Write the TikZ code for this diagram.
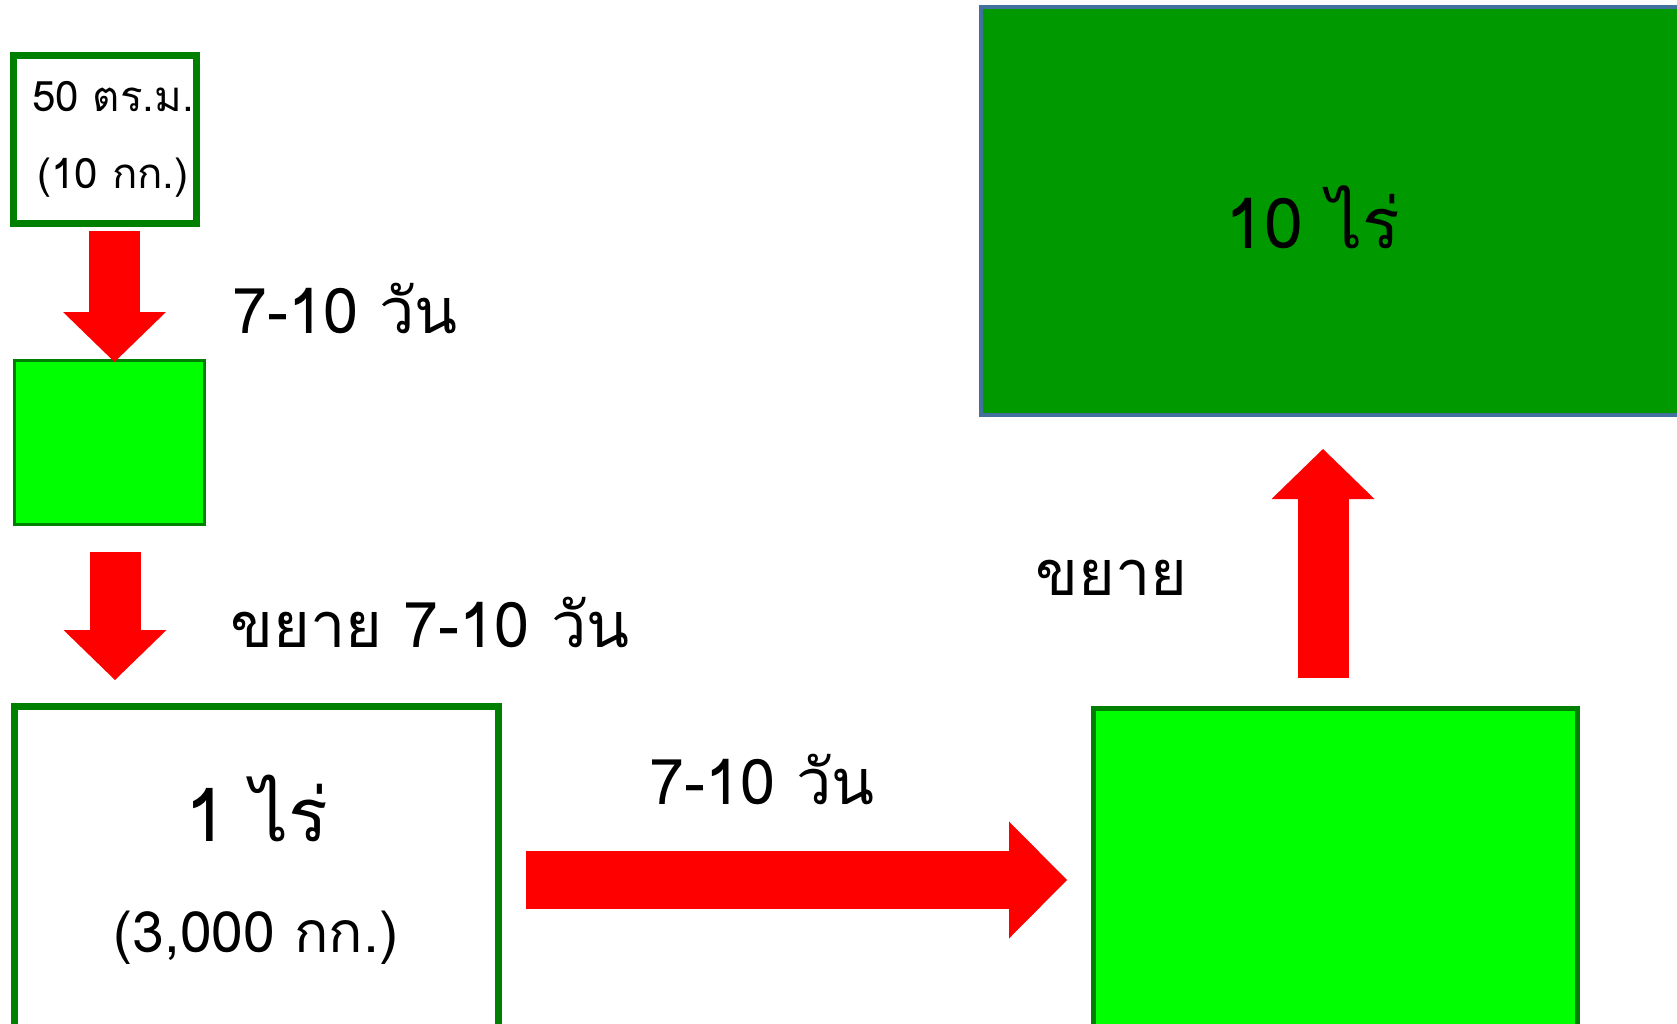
\documentclass[tikz,border=0pt]{standalone}
\usepackage{fontspec}
\setmainfont[Script=Thai]{Loma}
\usetikzlibrary{arrows.meta,positioning}
\definecolor{boxline}{RGB}{0,128,0}
\definecolor{leaf}{RGB}{0,255,0}
\definecolor{field}{RGB}{0,153,0}
\definecolor{fieldline}{RGB}{65,113,156}

\begin{document}
\begin{tikzpicture}[x=1pt, y=-1pt,
  box node/.style={rectangle,draw=boxline,inner sep=0pt},
  text node/.style={inner sep=0pt,font=\fontsize{63}{70}\selectfont},
  down arrow/.style={red,line width=51pt,-{Triangle[length=50pt,width=103pt,line width=0pt]}},
  wide arrow/.style={red,line width=58pt,-{Triangle[length=58pt,width=117pt,line width=0pt]}}]

\useasboundingbox (0,0) rectangle (1677,1024);
\clip (0,0) rectangle (1677,1024);

\node[box node, line width=7pt, minimum width=183pt, minimum height=168pt] (1) at (105,139.5) {};
\node[box node, line width=3pt, fill=leaf, minimum width=190pt, minimum height=164pt] (2) at (109.5,442.5) {};
\node[box node, line width=7pt, minimum width=484pt, minimum height=400pt, anchor=north] (3) at (256.5,703) {};
\node[box node, line width=5pt, fill=leaf, minimum width=484pt, minimum height=400pt, anchor=north west] (4) at (1091,706) {};
\node[box node, draw=fieldline, line width=4pt, fill=field, minimum width=720pt, minimum height=408pt, anchor=north west] (5) at (979,5) {};

\node[text node, align=center, font=\fontsize{42}{77}\selectfont] (13) at (113,139) {50 ตร.ม.\\(10 กก.)};
\node[text node, anchor=base, font=\fontsize{74}{80}\selectfont] (6) at (257,841) {1 ไร่};
\node[text node, anchor=base, font=\fontsize{57}{60}\selectfont] (7) at (256,952) {(3,000 กก.)};
\node[text node, anchor=base, font=\fontsize{70}{80}\selectfont] (8) at (1313,248) {10 ไร่};

\node[text node, anchor=base west] (9) at (232,333) {7-10 วัน};
\node[text node, anchor=base west] (10) at (230,647) {ขยาย 7-10 วัน};
\node[text node, anchor=base west] (11) at (649,804) {7-10 วัน};
\node[text node, anchor=base west] (12) at (1035,595) {ขยาย};

\draw[down arrow, shorten <=4pt, shorten >=-3pt] ([xshift=9.5pt]1.south) -- ([xshift=5pt]2.north);
\draw[down arrow, shorten <=26pt, shorten >=23pt] ([xshift=5.5pt]2.south) -- ([xshift=-141.5pt]3.north);
\draw[wide arrow, shorten <=24pt, shorten >=24pt] (3.east |- 0,880) -- (4.west |- 0,880);
\draw[down arrow, shorten <=28pt, shorten >=32pt] ([xshift=-12.5pt]4.north) -- ([xshift=-18pt]5.south);

\end{tikzpicture}
\end{document}
